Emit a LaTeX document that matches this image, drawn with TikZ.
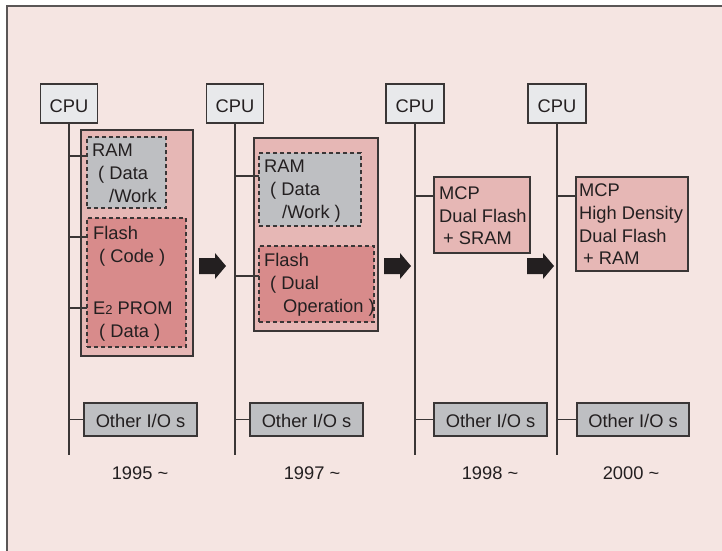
\documentclass[tikz,border=0pt]{standalone}
\usepackage{fontspec}
\setmainfont{Liberation Sans}
\definecolor{bgc}{RGB}{245,229,226}
\definecolor{outerc}{RGB}{230,183,181}
\definecolor{flashc}{RGB}{216,139,139}
\definecolor{grayc}{RGB}{190,191,194}
\definecolor{cpuc}{RGB}{232,233,235}
\definecolor{linec}{RGB}{58,54,54}
\definecolor{arrowc}{RGB}{35,31,32}
\definecolor{framec}{RGB}{90,86,86}
\tikzset{
  every node/.style={font=\fontsize{18.3}{23}\selectfont, text=arrowc},
  plainbox/.style={draw=linec, line width=1.1pt, inner sep=0pt, outer sep=0pt, anchor=north west},
  cpubox/.style={draw=linec, line width=1.1pt, fill=cpuc, inner sep=0pt, outer sep=0pt, minimum height=39pt},
  outerbox/.style={plainbox, fill=outerc},
  rambox/.style={plainbox, fill=grayc, dash pattern=on 4pt off 3pt},
  flashbox/.style={plainbox, fill=flashc, dash pattern=on 4pt off 3pt},
  mcpbox/.style={plainbox, fill=outerc},
  iobox/.style={plainbox, fill=grayc, minimum height=33pt},
  txt/.style={anchor=base west, inner sep=0pt},
  ctxt/.style={anchor=base, inner sep=0pt},
  bus/.style={draw=linec, line width=1.1pt},
  stagearrow/.style={fill=arrowc},
}
\begin{document}
\begin{tikzpicture}[x=1pt,y=-1pt]
\useasboundingbox (0,0) rectangle (722,550);
\fill[white] (0,0) rectangle (722,550);
\fill[bgc] (7,6) rectangle (724,552);
\draw[framec, line width=1.4pt] (7,552) -- (7,6) -- (724,6);

% ---------- CPUs ----------
\node[cpubox, minimum width=57pt] (cpu1) at (69,103.5) {};
\node[cpubox, minimum width=57pt] (cpu2) at (235,103.5) {};
\node[cpubox, minimum width=58pt] (cpu3) at (415,103.5) {};
\node[cpubox, minimum width=58pt] (cpu4) at (557,103.5) {};
\foreach \n/\x in {1/69,2/235,3/415,4/557}{
  \node[ctxt] (cpulabel\n) at (\x,112.5) {CPU};
}

% ---------- stage 1995 ----------
\node[outerbox, minimum width=112pt, minimum height=226pt] (outer1) at (81,130) {};
\node[rambox, minimum width=79pt, minimum height=71pt] (ram1) at (87,137) {};
\node[flashbox, minimum width=99pt, minimum height=129pt] (flash1) at (87,218) {};
\node[txt] (r1a) at (92,156.5) {RAM};
\node[txt] (r1b) at (98,179.5) {( Data};
\node[txt] (r1c) at (109,202) {/Work};
\node[txt] (f1a) at (93,239) {Flash};
\node[txt] (f1b) at (99,262.5) {( Code )};
\node[txt] (f1c) at (93,314) {E{\fontsize{13}{13}\selectfont 2} PROM};
\node[txt] (f1d) at (99,337.5) {( Data )};

% ---------- stage 1997 ----------
\node[outerbox, minimum width=124pt, minimum height=193pt] (outer2) at (254,138) {};
\node[rambox, minimum width=102pt, minimum height=73pt] (ram2) at (259,153) {};
\node[flashbox, minimum width=115pt, minimum height=76pt] (flash2) at (259,246) {};
\node[txt] (r2a) at (264,172.5) {RAM};
\node[txt] (r2b) at (270,195.5) {( Data};
\node[txt] (r2c) at (282,218.5) {/Work )};
\node[txt] (f2a) at (264,266.5) {Flash};
\node[txt] (f2b) at (270,289.5) {( Dual};
\node[txt] (f2c) at (283,312.5) {Operation )};

% ---------- stage 1998 ----------
\node[mcpbox, minimum width=96pt, minimum height=76pt] (mcp3) at (434,177) {};
\node[txt] (m3a) at (439,199.5) {MCP};
\node[txt] (m3b) at (439,222.5) {Dual Flash};
\node[txt] (m3c) at (443,244) {+ SRAM};

% ---------- stage 2000 ----------
\node[mcpbox, minimum width=112pt, minimum height=94pt] (mcp4) at (576,177) {};
\node[txt] (m4a) at (579,196) {MCP};
\node[txt] (m4b) at (579,219.5) {High Density};
\node[txt] (m4c) at (579,242.5) {Dual Flash};
\node[txt] (m4d) at (583,264.5) {+ RAM};

% ---------- Other I/O s ----------
\node[iobox, minimum width=113pt] (io1) at (84,403) {};
\node[iobox, minimum width=113pt] (io2) at (250,403) {};
\node[iobox, minimum width=113pt] (io3) at (434,403) {};
\node[iobox, minimum width=112pt] (io4) at (577,403) {};
\foreach \n in {1,2,3,4}{
  \node[anchor=base, inner sep=0pt] (iolabel\n) at ([yshift=-8pt]io\n.center) {Other I/O s};
}

% ---------- years ----------
\node[ctxt] (y1) at (140,479) {1995 \textasciitilde};
\node[ctxt] (y2) at (312,479) {1997 \textasciitilde};
\node[ctxt] (y3) at (490,479) {1998 \textasciitilde};
\node[ctxt] (y4) at (631,479) {2000 \textasciitilde};

% ---------- buses ----------
\foreach \n/\x in {1/69,2/235,3/415,4/557}{
  \coordinate (busend\n) at (\x,455);
  \draw[bus] (cpu\n.south) -- (busend\n);
  \coordinate (iotap\n) at (\x,419.5);
  \draw[bus] (iotap\n) -- (iotap\n -| io\n.west);
}
\coordinate (t1a) at (69,156);
\coordinate (t1b) at (69,237);
\coordinate (t1c) at (69,308);
\draw[bus] (t1a) -- (t1a -| ram1.west);
\draw[bus] (t1b) -- (t1b -| flash1.west);
\draw[bus] (t1c) -- (t1c -| flash1.west);
\coordinate (t2a) at (235,176);
\coordinate (t2b) at (235,276);
\draw[bus] (t2a) -- (t2a -| ram2.west);
\draw[bus] (t2b) -- (t2b -| flash2.west);
\coordinate (t3) at (415,196);
\draw[bus] (t3) -- (t3 -| mcp3.west);
\coordinate (t4) at (557,196);
\draw[bus] (t4) -- (t4 -| mcp4.west);

% ---------- stage arrows ----------
\foreach \x in {199,384,527}{
  \fill[stagearrow] (\x,258) -- (\x+16,258) -- (\x+16,253) -- (\x+27,266) -- (\x+16,279) -- (\x+16,274) -- (\x,274) -- cycle;
}
\end{tikzpicture}
\end{document}
